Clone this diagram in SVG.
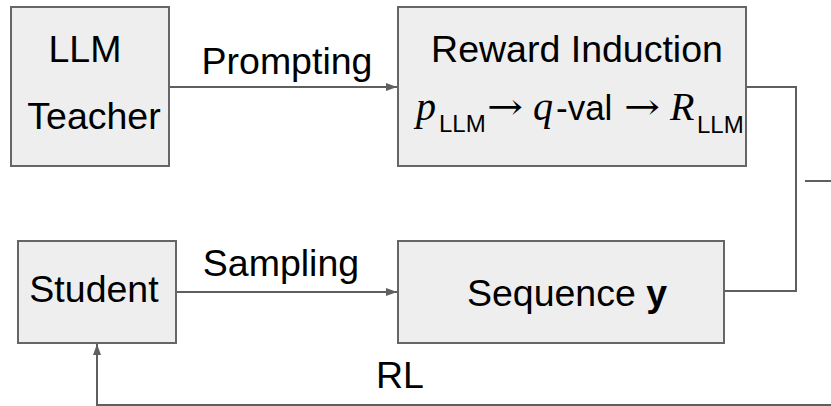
<svg xmlns="http://www.w3.org/2000/svg" width="831" height="406" viewBox="0 0 831 406">
<style>
.box{fill:#eeeeee;stroke:#666666;stroke-width:2}
.conn{fill:none;stroke:#5f5f5f;stroke-width:2}
.t{font-family:"Liberation Sans",Arial,Helvetica,sans-serif;font-size:37.5px;fill:#000}
.v{font-family:"Liberation Sans",Arial,Helvetica,sans-serif;font-size:35px;fill:#000}
.m{font-family:"Liberation Serif","DejaVu Serif",serif;font-style:italic;font-size:40px;fill:#000}
.ar{font-family:"DejaVu Serif","Liberation Serif",serif;font-size:36px;fill:#000}
.sub{font-family:"Liberation Sans",Arial,sans-serif;font-size:24px;fill:#000}
</style>
<defs>
<marker id="ah" markerUnits="userSpaceOnUse" markerWidth="12" markerHeight="9" refX="11" refY="4" orient="auto">
<path d="M0,0 L11,4 L0,8 Z" fill="#5f5f5f"/>
</marker>
</defs>
<g id="connectors">
<line class="conn" x1="169" y1="87" x2="397" y2="87" marker-end="url(#ah)"/>
<polyline class="conn" points="746,87 796,87 796,291 724,291"/>
<line class="conn" x1="176" y1="292" x2="397" y2="292" marker-end="url(#ah)"/>
<polyline class="conn" points="831,405 97,405 97,344" marker-end="url(#ah)"/>
<line class="conn" x1="805" y1="181" x2="831" y2="181"/>
<text class="t" x="287" y="74" text-anchor="middle">Prompting</text>
<text class="t" x="281" y="276" text-anchor="middle">Sampling</text>
<text class="t" x="400" y="388" text-anchor="middle">RL</text>
</g>
<g id="teacher">
<rect class="box" x="11" y="7" width="158" height="159"/>
<text class="t" x="85" y="62" text-anchor="middle">LLM</text>
<text class="t" x="94" y="129" text-anchor="middle">Teacher</text>
</g>
<g id="reward">
<rect class="box" x="398" y="7" width="348" height="159"/>
<text class="t" x="577" y="62" text-anchor="middle">Reward Induction</text>
<text class="m" x="416" y="120">p</text>
<text class="sub" x="439" y="132">LLM</text>
<text class="ar" x="487" y="119" textLength="36" lengthAdjust="spacingAndGlyphs">→</text>
<text class="m" x="533" y="120">q</text>
<text class="v" x="556" y="120">-val</text>
<text class="ar" x="624" y="119" textLength="36" lengthAdjust="spacingAndGlyphs">→</text>
<text class="m" x="670" y="120">R</text>
<text class="sub" x="697" y="133">LLM</text>
</g>
<g id="student">
<rect class="box" x="18" y="241" width="158" height="102"/>
<text class="t" x="94" y="302" text-anchor="middle">Student</text>
</g>
<g id="sequence">
<rect class="box" x="398" y="241" width="326" height="102"/>
<text class="t" x="567" y="306" text-anchor="middle">Sequence <tspan font-weight="bold">y</tspan></text>
</g>
</svg>
